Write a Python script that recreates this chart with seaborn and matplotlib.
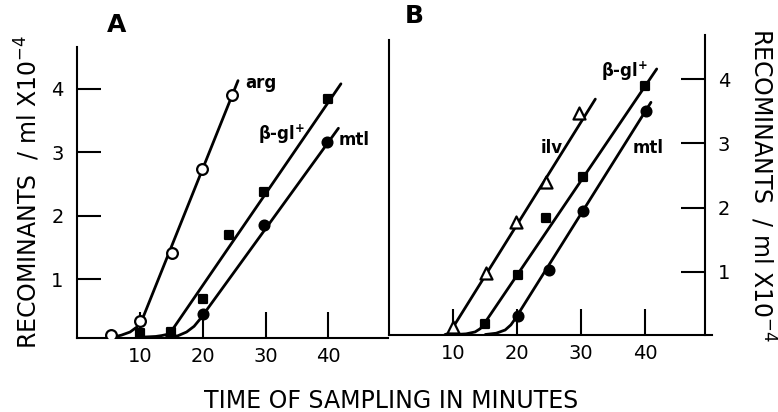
import matplotlib
matplotlib.use("Agg")
import matplotlib.pyplot as plt
import seaborn as sns
import pandas as pd

# ---------------- data ----------------
# Panel A: measured points
a_arg_t = [5.3, 9.9, 15.0, 19.8, 24.7]
a_arg_v = [0.12, 0.34, 1.42, 2.74, 3.90]
a_bgl_t = [10.0, 14.9, 20.0, 24.1, 29.7, 39.9]
a_bgl_v = [0.16, 0.17, 0.69, 1.70, 2.37, 3.84]
a_mtl_t = [20.0, 29.8, 39.7]
a_mtl_v = [0.45, 1.85, 3.17]
# Panel A: hand-drawn fitted curves
a_arg_fit_t = [5.7, 7.0, 8.4, 9.5, 10.3, 25.6]
a_arg_fit_v = [0.09, 0.12, 0.17, 0.25, 0.36, 4.13]
a_bgl_fit_t = [10.5, 12.5, 13.5, 14.2, 14.8, 15.3, 42.0]
a_bgl_fit_v = [0.09, 0.10, 0.115, 0.13, 0.17, 0.23, 4.08]
a_mtl_fit_t = [14.2, 16.0, 17.4, 18.6, 19.6, 41.6]
a_mtl_fit_v = [0.09, 0.11, 0.17, 0.26, 0.38, 3.38]

# Panel B: measured points
b_ilv_t = [10.0, 15.1, 19.8, 24.5, 29.7]
b_ilv_v = [0.14, 0.98, 1.77, 2.40, 3.48]
b_bgl_t = [15.0, 20.1, 24.5, 30.2, 40.0]
b_bgl_v = [0.18, 0.95, 1.83, 2.48, 3.90]
b_mtl_t = [20.1, 25.0, 30.2, 40.2]
b_mtl_v = [0.31, 1.03, 1.94, 3.50]
# Panel B: hand-drawn fitted curves
b_ilv_fit_t = [8.7, 9.1, 9.5, 10.0, 32.2]
b_ilv_fit_v = [0.02, 0.03, 0.06, 0.14, 3.69]
b_bgl_fit_t = [10.3, 12.0, 13.4, 14.2, 14.7, 41.8]
b_bgl_fit_v = [0.02, 0.03, 0.06, 0.11, 0.17, 4.16]
b_mtl_fit_t = [15.0, 16.7, 18.1, 19.0, 19.7, 40.9]
b_mtl_fit_v = [0.02, 0.04, 0.09, 0.17, 0.27, 3.64]

x_ticks = [10, 20, 30, 40]
y_ticks = [1, 2, 3, 4]
panel_labels = ["A", "B"]
x_label = "TIME OF SAMPLING IN MINUTES"
y_label = "RECOMINANTS  / ml X10$^{-4}$"
series_label_bgl = "β-gl$^{+}$"

# ---------------- style ----------------
sns.set_style("ticks")
plt.rcParams["font.family"] = ["DejaVu Sans"]
plt.rcParams["mathtext.default"] = "regular"
for key in ("text.color", "axes.labelcolor", "xtick.color", "ytick.color",
            "axes.edgecolor"):
    plt.rcParams[key] = "black"

fig = plt.figure(figsize=(7.78, 4.12), dpi=100)
axA = fig.add_axes([0.0995, 0.1803, 0.3992, 0.7056])
axB = fig.add_axes([0.5005, 0.1881, 0.4143, 0.7270])

LW = 2.0
SPW = 1.5
TICKFS = 14

def fit(ax, t, v):
    sns.lineplot(x=t, y=v, ax=ax, color="black", lw=LW, sort=False,
                 estimator=None, zorder=2)

def pts(ax, t, v, marker, filled, size):
    sns.scatterplot(x=t, y=v, ax=ax, marker=marker, s=size,
                    facecolor="black" if filled else "white",
                    edgecolor="black", linewidth=1.6, zorder=3)

# Panel A
fit(axA, a_arg_fit_t, a_arg_fit_v)
fit(axA, a_bgl_fit_t, a_bgl_fit_v)
fit(axA, a_mtl_fit_t, a_mtl_fit_v)
pts(axA, a_arg_t, a_arg_v, "o", False, 60)
pts(axA, a_bgl_t, a_bgl_v, "s", True, 35)
pts(axA, a_mtl_t, a_mtl_v, "o", True, 50)

# Panel B
fit(axB, b_ilv_fit_t, b_ilv_fit_v)
fit(axB, b_bgl_fit_t, b_bgl_fit_v)
fit(axB, b_mtl_fit_t, b_mtl_fit_v)
pts(axB, b_ilv_t, b_ilv_v, "^", False, 75)
pts(axB, b_bgl_t, b_bgl_v, "s", True, 35)
pts(axB, b_mtl_t, b_mtl_v, "o", True, 50)

# axes A
axA.set_xlim(0, 49.5)
axA.set_ylim(0.08, 4.66)
axA.spines["top"].set_visible(False)
axA.spines["right"].set_visible(False)
for s in ("left", "bottom"):
    axA.spines[s].set_linewidth(SPW)
axA.set_xticks(x_ticks)
axA.set_yticks(y_ticks)
axA.tick_params(axis="x", direction="in", length=18.5, width=SPW, pad=7,
                labelsize=TICKFS)
axA.tick_params(axis="y", direction="in", length=17, width=SPW, pad=10,
                labelsize=TICKFS)

# axes B
axB.set_xlim(0, 50.4)
axB.set_ylim(0.02, 4.69)
axB.spines["top"].set_visible(False)
axB.spines["right"].set_position(("data", 49.4))
axB.spines["left"].set_bounds(0.02, 4.61)
for s in ("left", "bottom", "right"):
    axB.spines[s].set_linewidth(SPW)
axB.set_xticks(x_ticks)
axB.set_yticks(y_ticks)
axB.yaxis.tick_right()
axB.tick_params(axis="x", direction="in", length=18.5, width=SPW, pad=7,
                labelsize=TICKFS)
axB.tick_params(axis="y", direction="in", length=17, width=SPW, pad=9,
                labelsize=TICKFS, left=False, right=True)

for ax in (axA, axB):
    ax.set_xlabel("")
    ax.set_ylabel("")

# series labels
lab_kw = dict(fontsize=12, fontweight="bold", color="black")
axA.text(26.7, 4.10, "arg", ha="left", va="center", **lab_kw)
axA.text(32.6, 3.28, series_label_bgl, ha="center", va="center", **lab_kw)
axA.text(41.6, 3.20, "mtl", ha="left", va="center", **lab_kw)
axB.text(36.7, 4.12, series_label_bgl, ha="center", va="center", **lab_kw)
axB.text(25.3, 2.93, "ilv", ha="center", va="center", **lab_kw)
axB.text(40.5, 2.93, "mtl", ha="center", va="center", **lab_kw)

# panel letters
fig.text(117 / 778, 1 - 25 / 412, panel_labels[0], fontsize=18,
         fontweight="bold", ha="center", va="center")
fig.text(414 / 778, 1 - 16 / 412, panel_labels[1], fontsize=18,
         fontweight="bold", ha="center", va="center")

# axis titles
fig.text(391 / 778, 1 - 401 / 412, x_label, fontsize=17, ha="center",
         va="center")
fig.text(27.5 / 778, 1 - 192 / 412, y_label, fontsize=17, rotation=90,
         ha="center", va="center")
fig.text(762 / 778, 1 - 185 / 412, y_label, fontsize=17, rotation=270,
         ha="center", va="center")

fig.savefig("out.png", dpi=100)
